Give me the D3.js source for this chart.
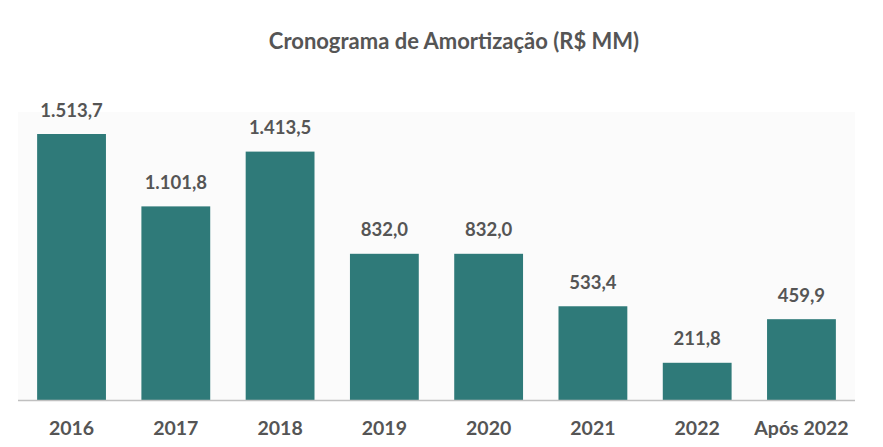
<!DOCTYPE html>
<html><head><meta charset="utf-8">
<script src="https://cdn.jsdelivr.net/npm/d3@7"></script>
<style>body{margin:0;background:#fff}</style>
</head><body>
<svg id="c" width="883" height="447"></svg>
<script>
const categories = ["2016","2017","2018","2019","2020","2021","2022","Após 2022"];
const values = [1513.7, 1101.8, 1413.5, 832.0, 832.0, 533.4, 211.8, 459.9];
const title = "Cronograma de Amortização (R$ MM)";

const svg = d3.select("#c");
const baseY = 400;
const x = d3.scaleBand().domain(categories).range([19.4, 853.6]).paddingInner(0.34).paddingOuter(0.17);
const y = d3.scaleLinear().domain([0, 1513.7]).range([baseY, 134]);
const fmt = v => d3.formatLocale({decimal:",", thousands:".", grouping:[3], currency:["R$",""]}).format(",.1f")(v);
const font = "Lato, 'Open Sans', sans-serif";
const txt = "#555555";

svg.append("rect").attr("x", 18).attr("y", 112).attr("width", 837).attr("height", baseY - 112).attr("fill", "#fbfbfb");

svg.append("text").attr("x", 454).attr("y", 49).attr("text-anchor","middle")
  .attr("font-family", font).attr("font-weight","bold").attr("font-size", 22).attr("fill", txt).text(title);

svg.selectAll("rect.bar").data(values).join("rect").attr("class","bar")
  .attr("x",(d,i)=>x(categories[i])).attr("width", x.bandwidth())
  .attr("y", d=>y(d)).attr("height", d=>baseY - y(d)).attr("fill","#2f7a79");

svg.selectAll("text.val").data(values).join("text").attr("class","val")
  .attr("x",(d,i)=>x(categories[i]) + x.bandwidth()/2).attr("y", d=>y(d)-17.5)
  .attr("text-anchor","middle").attr("font-family", font).attr("font-weight","bold")
  .attr("font-size", 18.5).attr("fill", txt).text(d=>fmt(d));

const axis = d3.axisBottom(x).tickSize(0).tickPadding(0);
const g = svg.append("g").attr("transform", `translate(0,${baseY})`).call(axis);
g.select(".domain").attr("d", "M18,0.5H855").attr("stroke","#c0c0c0").attr("stroke-width",1.5);
g.selectAll("text").attr("y", 35).attr("dy", null).attr("font-family", font).attr("font-weight","bold")
  .attr("font-size", 19.5).attr("fill", txt);
</script>
</body></html>
